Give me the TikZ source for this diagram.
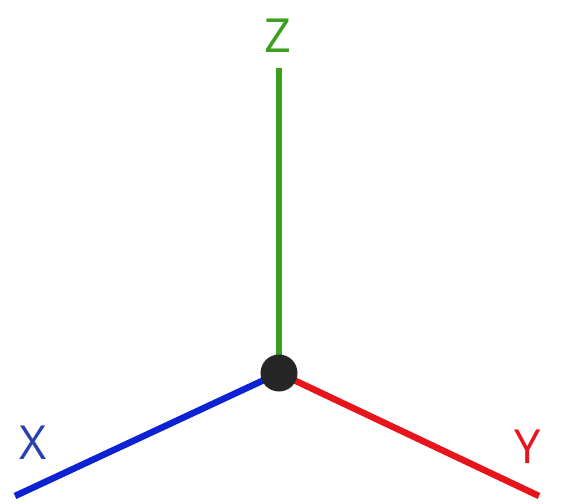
\documentclass[tikz,border=0pt]{standalone}
\usepackage{fontspec}
\setmainfont{Open Sans}
\usepackage{tikz}
\usetikzlibrary{positioning}
\definecolor{axisgreen}{HTML}{3A9F1E}
\definecolor{axisblue}{HTML}{0D22D2}
\definecolor{labelblue}{HTML}{2A40B0}
\definecolor{axisred}{HTML}{E8141C}
\definecolor{origindot}{HTML}{262626}

\begin{document}
\begin{tikzpicture}[x=1pt,y=-1pt,
    axisline/.style={line width=6.5pt},
    axislabel/.style={font=\fontsize{47}{47}\selectfont, inner sep=0pt}]
        \useasboundingbox (0,0) rectangle (585,503);
        \coordinate (o) at (279,373);
        \coordinate (zend) at (279,68);
        \coordinate (xend) at (15,496);
        \coordinate (yend) at (539,496);
        \draw[axisgreen, axisline] (o) -- (zend);
        \draw[axisblue, axisline] (o) -- (xend);
        \draw[axisred, axisline] (o) -- (yend);
        \fill[origindot] (o) circle[radius=18.5];
        \node[axislabel, text=axisgreen] (zlabel) at (278,36) {Z};
        \node[axislabel, text=labelblue] (xlabel) at (33,443) {X};
        \node[axislabel, text=axisred] (ylabel) at (528,447) {Y};
      \end{tikzpicture}
\end{document}
